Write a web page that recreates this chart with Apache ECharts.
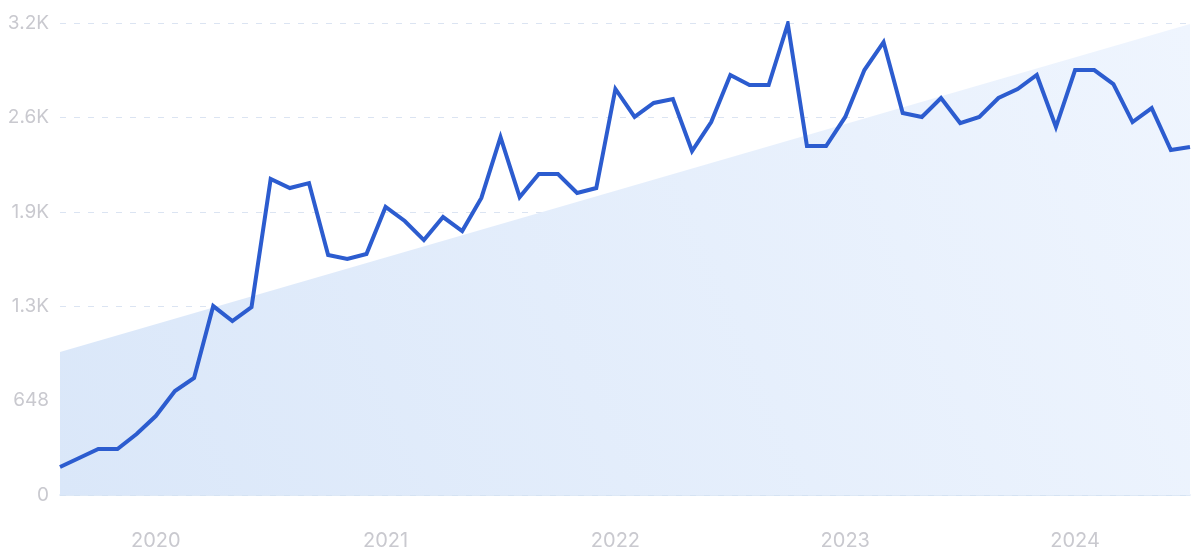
<!DOCTYPE html>
<html>
<head>
<meta charset="utf-8">
<script src="https://cdn.jsdelivr.net/npm/echarts@6/dist/echarts.min.js"></script>
<style>
html,body{margin:0;padding:0;background:#fff;}
#chart{width:1200px;height:559px;}
</style>
</head>
<body>
<div id="chart"></div>
<script>
// Months Aug 2019 .. Jul 2024
const months = [
  '2019-08','2019-09','2019-10','2019-11','2019-12',
  '2020-01','2020-02','2020-03','2020-04','2020-05','2020-06','2020-07','2020-08','2020-09','2020-10','2020-11','2020-12',
  '2021-01','2021-02','2021-03','2021-04','2021-05','2021-06','2021-07','2021-08','2021-09','2021-10','2021-11','2021-12',
  '2022-01','2022-02','2022-03','2022-04','2022-05','2022-06','2022-07','2022-08','2022-09','2022-10','2022-11','2022-12',
  '2023-01','2023-02','2023-03','2023-04','2023-05','2023-06','2023-07','2023-08','2023-09','2023-10','2023-11','2023-12',
  '2024-01','2024-02','2024-03','2024-04','2024-05','2024-06','2024-07'
];
const searches = [
  192, 254, 316, 316, 419,
  542, 714, 803, 1297, 1194, 1290, 2169, 2107, 2141, 1647, 1620, 1654,
  1977, 1881, 1750, 1908, 1812, 2039, 2457, 2045, 2203, 2203, 2073, 2107,
  2787, 2595, 2691, 2718, 2361, 2560, 2883, 2814, 2814, 3233, 2395, 2395,
  2595, 2917, 3109, 2622, 2595, 2725, 2553, 2595, 2725, 2787, 2883, 2526,
  2917, 2917, 2821, 2560, 2656, 2368, 2389
];
const trendStart = 982;
const trendEnd = 3233;
const yTicks = [0, 648, 1296, 1944, 2592, 3240];
const yTickLabels = ['0', '648', '1.3K', '1.9K', '2.6K', '3.2K'];

const trendData = months.map((m, i) => i === 0 ? trendStart : (i === months.length - 1 ? trendEnd : null));

const chart = echarts.init(document.getElementById('chart'), null, {renderer: 'canvas'});
const labelColor = '#c9c9cf';
chart.setOption({
  animation: false,
  backgroundColor: '#ffffff',
  grid: {left: 60, right: 10, top: 23, bottom: 64, containLabel: false},
  xAxis: {
    type: 'category',
    data: months,
    boundaryGap: false,
    axisLine: {show: true, lineStyle: {color: '#d4e2f4', width: 1.5}},
    axisTick: {show: false},
    splitLine: {show: false},
    axisLabel: {
      color: labelColor,
      fontSize: 20,
      fontFamily: 'Inter, "Noto Sans", sans-serif',
      margin: 36,
      interval: (idx, val) => val.endsWith('-01'),
      formatter: (val) => val.slice(0, 4)
    }
  },
  yAxis: {
    type: 'value',
    min: 0,
    max: 3240,
    interval: 648,
    axisLine: {show: false},
    axisTick: {show: false},
    splitLine: {show: true, lineStyle: {color: '#dbe4f2', type: [6, 8], width: 1}},
    axisLabel: {
      color: labelColor,
      fontSize: 19,
      fontFamily: 'Inter, "Noto Sans", sans-serif',
      margin: 11,
      formatter: (v) => {
        const k = yTicks.indexOf(v);
        return k >= 0 ? yTickLabels[k] : '';
      }
    }
  },
  series: [
    {
      type: 'line',
      data: trendData,
      connectNulls: true,
      symbol: 'none',
      lineStyle: {width: 0, opacity: 0},
      areaStyle: {
        opacity: 1,
        color: new echarts.graphic.LinearGradient(0, 1, 1, 0, [
          {offset: 0, color: '#dae7f9'},
          {offset: 1, color: '#eff5fe'}
        ])
      },
      z: 1
    },
    {
      type: 'line',
      data: searches,
      symbol: 'none',
      lineStyle: {color: '#2c5ccf', width: 4, join: 'miter'},
      z: 3
    }
  ]
});
</script>
</body>
</html>
